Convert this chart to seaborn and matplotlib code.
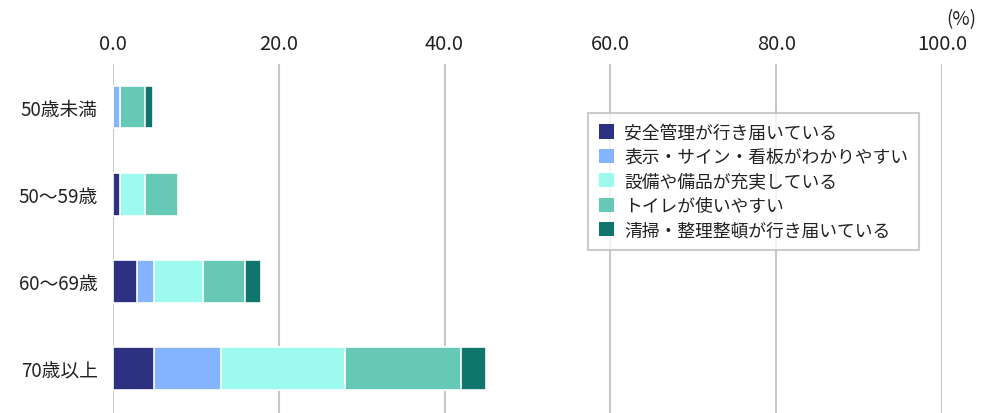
import matplotlib
matplotlib.use("Agg")
import matplotlib.pyplot as plt
from matplotlib.patches import Patch
import numpy as np
import pandas as pd
import seaborn as sns

# Age groups (rows) and reasons (stacked segments), in %
ages = ["50歳未満", "50〜59歳", "60〜69歳", "70歳以上"]
reasons = [
    "安全管理が行き届いている",
    "表示・サイン・看板がわかりやすい",
    "設備や備品が充実している",
    "トイレが使いやすい",
    "清掃・整理整頓が行き届いている",
]
safety = [0.0, 0.9, 2.9, 5.0]
signage = [0.9, 0.0, 2.0, 8.0]
equipment = [0.0, 3.0, 6.0, 15.0]
toilets = [3.0, 3.9, 5.0, 14.0]
cleaning = [0.9, 0.0, 2.0, 3.0]
colors = ["#2E3182", "#84B4FF", "#9CFBEE", "#66C9B6", "#0F756D"]
xticks = [0, 20, 40, 60, 80, 100]

sns.set_theme(style="white")
plt.rcParams["font.family"] = ["Noto Sans CJK JP", "DejaVu Sans"]

series = [safety, signage, equipment, toilets, cleaning]
cum = np.cumsum(np.array(series), axis=0)
df = pd.DataFrame({"age": ages})
for i, r in enumerate(reasons):
    df[r] = cum[i]

fig = plt.figure(figsize=(9.89, 4.14), dpi=100)
ax = fig.add_axes([113 / 989, 0, (942 - 113) / 989, 1 - 65 / 414])

# Draw cumulative totals from the largest down so each segment shows on top
for i in range(len(reasons) - 1, -1, -1):
    sns.barplot(data=df, x=reasons[i], y="age", order=ages, orient="h",
                color=colors[i], saturation=1, width=0.49,
                edgecolor="white", linewidth=1.2, errorbar=None, ax=ax,
                zorder=3)

ax.set_xlim(0, 100)
ax.set_ylim(3.51, -0.493)
ax.set_xticks(xticks)
ax.set_xticklabels([f"{v:.1f}" for v in xticks])
ax.set_xlabel("")
ax.set_ylabel("")
ax.xaxis.tick_top()
ax.tick_params(axis="x", length=0, pad=7, labelsize=14.5, colors="#222222")
ax.tick_params(axis="y", length=0, pad=11, labelsize=13.5, colors="#222222")
ax.grid(axis="x", color="#C8C8C8", linewidth=1.5, zorder=0)
ax.grid(axis="y", visible=False)
ax.set_axisbelow(True)
for s in ax.spines.values():
    s.set_visible(False)

fig.text(961 / 989, 1 - 20 / 414, "(%)", ha="center", va="center",
         fontsize=13.5, color="#222222")

handles = [Patch(facecolor=c, edgecolor="none") for c in colors]
leg = ax.legend(handles, reasons, loc="upper left",
                bbox_to_anchor=((588 - 113) / 829, 1 - (114 - 65) / 349),
                frameon=True, fancybox=False, fontsize=12.8,
                handlelength=0.85, handleheight=0.85, handletextpad=0.6,
                labelspacing=0.36, borderpad=0.6, borderaxespad=0)
leg.get_frame().set_edgecolor("#BFBFBF")
leg.get_frame().set_linewidth(1.5)
for t in leg.get_texts():
    t.set_color("#222222")

fig.savefig("out.png", dpi=100)
